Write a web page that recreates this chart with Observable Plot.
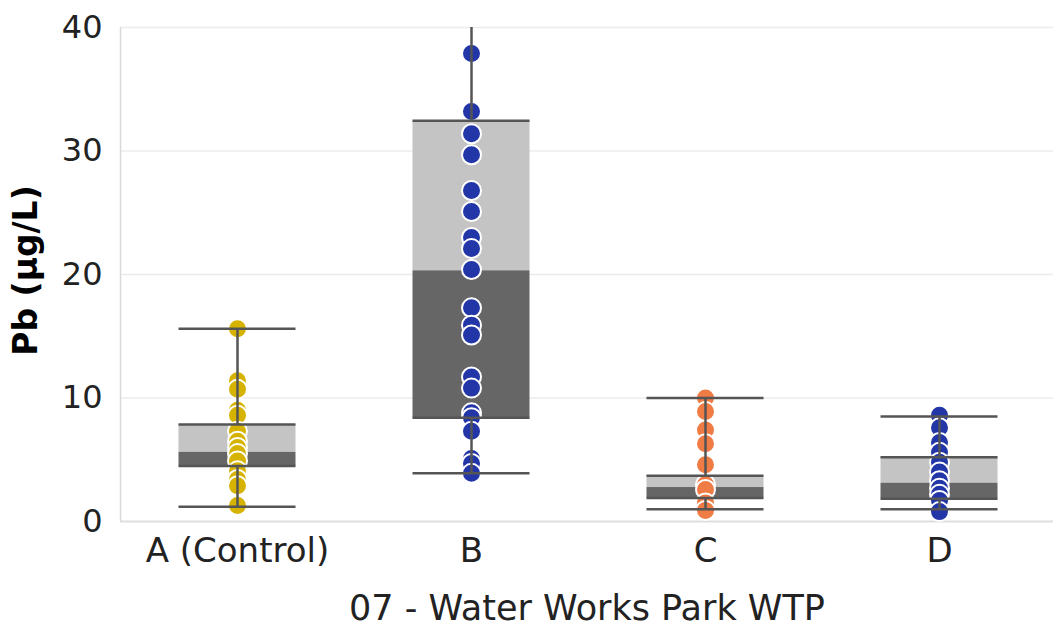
<!DOCTYPE html>
<html>
<head>
<meta charset="utf-8">
<script src="https://cdn.jsdelivr.net/npm/d3@7"></script>
<script src="https://cdn.jsdelivr.net/npm/@observablehq/plot@0.6"></script>
<style>
  body { margin: 0; background: #fff; }
</style>
</head>
<body>
<div id="chart"></div>
<script>
// Sampling sites and their marker colours
const sites = ["A (Control)", "B", "C", "D"];
const siteColors = ["#d6b300", "#2336a8", "#ef7b45", "#2336a8"];

// Box-plot summary per site (Pb, µg/L)
const whiskerLow = [1.2, 3.9, 1.0, 1.0];
const quartile1 = [4.5, 8.4, 1.9, 1.85];
const medians = [5.6, 20.3, 2.75, 3.1];
const quartile3 = [7.85, 32.45, 3.7, 5.2];
const whiskerHigh = [15.6, 42.0, 10.0, 8.5];

// Individual samples per site (Pb, µg/L)
const samplesA = [15.6, 11.4, 10.7, 9.0, 8.6, 7.3, 6.5, 6.0, 5.5, 4.9, 4.1, 3.4, 2.9, 1.3];
const samplesB = [37.9, 33.2, 31.4, 29.7, 26.8, 25.1, 23.0, 22.1, 20.4, 17.3, 15.9, 15.1, 11.7, 10.8, 8.8, 8.4, 7.3, 5.1, 4.7, 3.9];
const samplesC = [10.0, 8.9, 7.4, 6.3, 4.6, 3.0, 2.6, 1.5, 0.9];
const samplesD = [8.6, 7.6, 6.4, 5.6, 4.8, 4.0, 3.3, 2.7, 2.2, 1.7, 0.8];

// Tick values
const yTicks = [0, 10, 20, 30, 40];

const boxes = sites.map((site, i) => ({
  site,
  lo: whiskerLow[i], q1: quartile1[i], med: medians[i], q3: quartile3[i], hi: whiskerHigh[i]
}));
const samples = [samplesA, samplesB, samplesC, samplesD].flatMap((vals, i) =>
  vals.map(v => ({site: sites[i], value: v, color: siteColors[i]}))
);

const W = 1053, H = 633;
const left = 120, bandWidth = 234;
const boxInset = 58.5;
const lineColor = "#555555";

const chart = Plot.plot({
  width: W,
  height: H,
  marginLeft: left,
  marginTop: 27,
  marginBottom: 112,
  marginRight: 0,
  style: {fontFamily: "'DejaVu Sans', sans-serif", color: "#222", background: "#fff"},
  x: {domain: sites, range: [left, left + bandWidth * sites.length], padding: 0},
  y: {domain: [0, 40]},
  marks: [
    // horizontal grid
    Plot.ruleY(yTicks.slice(1), {stroke: "#ececec", strokeWidth: 1.5}),
    // baseline and left axis line
    Plot.ruleY([0], {stroke: "#dedede", strokeWidth: 2}),
    Plot.ruleX([sites[0]], {y1: 0, y2: 40, dx: -bandWidth / 2, stroke: "#d9d9d9", strokeWidth: 1.5}),
    // upper half of box (median to Q3)
    Plot.barY(boxes, {x: "site", y1: "med", y2: "q3", fill: "#c4c4c4", insetLeft: boxInset, insetRight: boxInset}),
    // lower half of box (Q1 to median)
    Plot.barY(boxes, {x: "site", y1: "q1", y2: "med", fill: "#666666", insetLeft: boxInset, insetRight: boxInset}),
    // samples
    Plot.dot(samples, {x: "site", y: "value", fill: "color", r: 9.5, stroke: "#fff", strokeWidth: 2}),
    // whiskers
    Plot.ruleX(boxes, {x: "site", y1: "q3", y2: "hi", stroke: lineColor, strokeWidth: 2.5, clip: true}),
    Plot.ruleX(boxes, {x: "site", y1: "lo", y2: "q1", stroke: lineColor, strokeWidth: 2.5}),
    Plot.tickY(boxes.filter(d => d.hi <= 40), {x: "site", y: "hi", stroke: lineColor, strokeWidth: 2.5, insetLeft: boxInset, insetRight: boxInset}),
    Plot.tickY(boxes, {x: "site", y: "lo", stroke: lineColor, strokeWidth: 2.5, insetLeft: boxInset, insetRight: boxInset}),
    // box edges
    Plot.tickY(boxes, {x: "site", y: "q3", stroke: lineColor, strokeWidth: 2.5, insetLeft: boxInset, insetRight: boxInset}),
    Plot.tickY(boxes, {x: "site", y: "q1", stroke: lineColor, strokeWidth: 2.5, insetLeft: boxInset, insetRight: boxInset}),
    // axes
    Plot.axisY({ticks: yTicks, tickSize: 0, tickPadding: 18, fontSize: 32, label: null}),
    Plot.axisX({tickSize: 0, tickPadding: 16, fontSize: 34, label: null}),
    // axis titles
    Plot.text(["Pb (µg/L)"], {frameAnchor: "left", textAnchor: "middle", lineAnchor: "middle", dx: -94, dy: -4, rotate: -90, fontSize: 33, fontWeight: "bold", fill: "#000"}),
    Plot.text(["07 - Water Works Park WTP"], {frameAnchor: "bottom", textAnchor: "middle", lineAnchor: "middle", dy: 87, fontSize: 35, fill: "#222"})
  ]
});

document.getElementById("chart").append(chart);
</script>
</body>
</html>
